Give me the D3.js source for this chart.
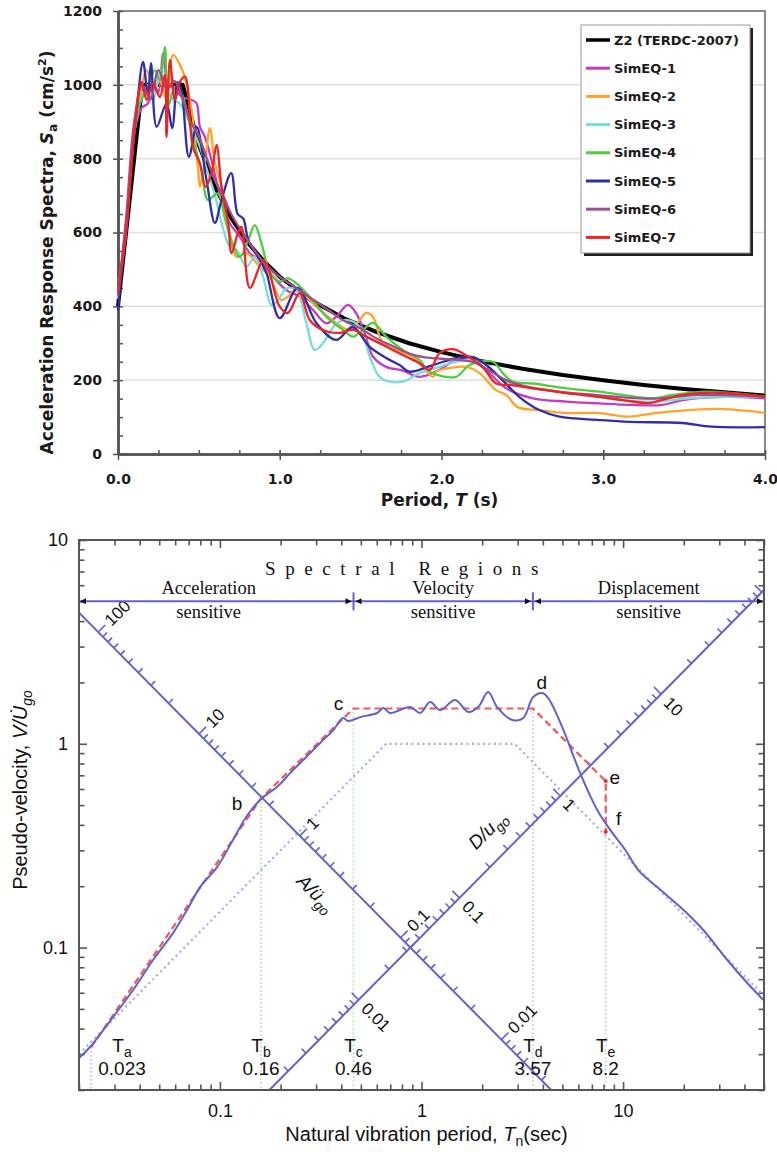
<!DOCTYPE html>
<html><head><meta charset="utf-8">
<script src="https://cdn.jsdelivr.net/npm/d3@7"></script>
<style>body{margin:0;background:#fff}svg{display:block}</style>
</head><body>
<svg id="c" width="777" height="1152"></svg>
<script>
// ================= DATA (top chart) =================
const topYTicks = [0, 200, 400, 600, 800, 1000, 1200];
const topXTicks = [0, 1, 2, 3, 4];
const seriesNames = ["Z2 (TERDC-2007)", "SimEQ-1", "SimEQ-2", "SimEQ-3", "SimEQ-4", "SimEQ-5", "SimEQ-6", "SimEQ-7"];
const seriesColors = ["#000000", "#c43cc4", "#ffa329", "#79dcd8", "#4fcd40", "#2e2eaa", "#a04f8c", "#ee2424"];

const z2 = [[0,400],[0.15,1000],[0.4,1000],[0.5,837],[0.6,723],[0.7,639],[0.8,574],[0.9,523],[1.0,480],[1.2,415],[1.4,367],[1.6,330],[1.8,300],[2.0,276],[2.25,251],[2.5,231],[2.75,214],[3.0,200],[3.25,187],[3.5,176],[3.75,167],[4.0,158]];
const simEQ1 = [[0,430],[0.05,600],[0.1,870],[0.146,937],[0.185,950],[0.22,1000],[0.249,981],[0.28,1085],[0.31,1000],[0.35,990],[0.393,968],[0.455,959],[0.486,950],[0.506,887],[0.537,859],[0.578,796],[0.62,720],[0.691,625],[0.753,589],[0.815,544],[0.877,525],[0.959,480],[1.041,444],[1.123,426],[1.206,390],[1.288,354],[1.35,372],[1.422,404],[1.473,381],[1.525,327],[1.576,264],[1.658,236],[1.761,226],[1.864,209],[1.988,228],[2.07,250],[2.193,255],[2.296,219],[2.40,178],[2.564,151],[2.77,142],[2.975,137],[3.16,133],[3.366,133],[3.49,146],[3.736,155],[4.0,151]];
const simEQ2 = [[0,436],[0.05,620],[0.1,880],[0.136,968],[0.177,1040],[0.22,990],[0.26,1010],[0.3,960],[0.341,1081],[0.393,1045],[0.414,1018],[0.455,932],[0.494,778],[0.506,724],[0.537,788],[0.568,883],[0.599,788],[0.64,724],[0.691,598],[0.733,534],[0.794,544],[0.877,507],[0.938,480],[1.01,417],[1.05,426],[1.103,444],[1.226,399],[1.35,355],[1.432,336],[1.494,363],[1.535,382],[1.576,372],[1.638,300],[1.72,282],[1.821,264],[1.864,246],[1.947,209],[1.967,223],[2.05,233],[2.152,236],[2.235,219],[2.337,173],[2.40,160],[2.471,127],[2.605,119],[2.77,111],[2.975,111],[3.16,101],[3.32,111],[3.53,119],[3.73,122],[4.0,111]];
const simEQ3 = [[0,420],[0.05,620],[0.1,870],[0.14,960],[0.18,1000],[0.22,960],[0.26,1040],[0.3,990],[0.34,960],[0.38,950],[0.42,920],[0.46,880],[0.5,840],[0.55,770],[0.6,700],[0.65,610],[0.691,562],[0.733,553],[0.794,507],[0.846,534],[0.897,480],[0.949,404],[0.99,417],[1.041,449],[1.103,444],[1.165,354],[1.216,282],[1.267,300],[1.35,354],[1.411,363],[1.494,345],[1.556,264],[1.617,209],[1.679,196],[1.761,196],[1.864,219],[1.988,236],[2.09,250],[2.193,255],[2.276,241],[2.358,209],[2.461,187],[2.667,173],[2.872,160],[3.12,146],[3.32,142],[3.53,151],[3.78,155],[4.0,155]];
const simEQ4 = [[0,430],[0.05,620],[0.1,870],[0.136,950],[0.185,994],[0.228,1040],[0.259,1013],[0.29,1103],[0.309,941],[0.352,994],[0.393,977],[0.432,913],[0.475,832],[0.517,769],[0.556,688],[0.617,706],[0.66,640],[0.70,580],[0.753,534],[0.805,580],[0.846,620],[0.887,571],[0.938,494],[1.0,467],[1.051,476],[1.103,462],[1.185,426],[1.288,372],[1.391,336],[1.453,318],[1.514,336],[1.576,355],[1.658,318],[1.761,282],[1.864,255],[1.926,223],[2.09,209],[2.173,241],[2.317,250],[2.379,219],[2.44,196],[2.564,191],[2.77,178],[2.975,169],[3.12,160],[3.30,151],[3.43,160],[3.64,169],[4.0,155]];
const simEQ5 = [[0,390],[0.06,669],[0.115,932],[0.155,1062],[0.185,967],[0.204,1059],[0.239,886],[0.30,950],[0.335,883],[0.368,1007],[0.393,981],[0.438,805],[0.486,886],[0.547,742],[0.599,626],[0.64,688],[0.70,761],[0.74,650],[0.774,638],[0.805,580],[0.877,525],[0.918,490],[1.0,368],[1.111,450],[1.226,355],[1.35,309],[1.45,344],[1.556,290],[1.658,260],[1.741,241],[1.80,223],[1.947,241],[2.09,260],[2.19,263],[2.276,241],[2.377,200],[2.48,155],[2.605,119],[2.728,101],[2.975,92],[3.16,87],[3.49,84],[3.67,74],[4.0,73]];
const simEQ6 = [[0,430],[0.05,640],[0.1,900],[0.15,1000],[0.2,960],[0.25,1040],[0.3,990],[0.35,1010],[0.4,960],[0.45,900],[0.5,860],[0.55,800],[0.6,740],[0.65,700],[0.7,650],[0.8,580],[0.9,520],[1.0,480],[1.1,450],[1.2,420],[1.3,390],[1.4,360],[1.5,340],[1.6,312],[1.7,292],[1.8,272],[1.9,262],[2.0,258],[2.1,255],[2.2,248],[2.3,225],[2.4,200],[2.5,185],[2.7,170],[3.0,158],[3.3,150],[3.6,160],[4.0,155]];
const simEQ7 = [[0,436],[0.053,616],[0.105,887],[0.146,1008],[0.177,959],[0.216,1004],[0.259,967],[0.29,1027],[0.30,859],[0.321,1067],[0.352,959],[0.383,1008],[0.414,1022],[0.463,832],[0.506,788],[0.541,724],[0.578,761],[0.609,837],[0.64,724],[0.681,626],[0.702,544],[0.741,598],[0.763,616],[0.815,450],[0.897,525],[0.926,507],[1.0,399],[1.05,382],[1.123,436],[1.185,363],[1.266,336],[1.37,328],[1.451,336],[1.535,318],[1.658,291],[1.78,264],[1.864,246],[1.926,228],[1.988,273],[2.07,284],[2.13,273],[2.253,236],[2.337,191],[2.42,187],[2.562,178],[2.77,165],[2.975,155],[3.12,146],[3.28,138],[3.36,146],[3.49,160],[3.73,166],[4.0,155]];
const topSeries = [z2, simEQ1, simEQ2, simEQ3, simEQ4, simEQ5, simEQ6, simEQ7];

// ================= DATA (bottom chart) =================
const btmMajorX = [0.1, 1, 10];
const btmMajorY = [0.1, 1, 10];
const spectrum = [[0.0200,0.0287],[0.0227,0.0325],[0.0295,0.0456],[0.0371,0.0619],[0.0466,0.0869],[0.0586,0.118],[0.0687,0.153],[0.0797,0.198],[0.0968,0.248],[0.116,0.337],[0.137,0.447],[0.162,0.542],[0.192,0.614],[0.223,0.718],[0.259,0.832],[0.314,1.009],[0.365,1.167],[0.408,1.337],[0.433,1.293],[0.497,1.352],[0.603,1.416],[0.646,1.497],[0.698,1.416],[0.879,1.514],[0.984,1.416],[1.104,1.603],[1.238,1.464],[1.469,1.640],[1.705,1.432],[1.910,1.514],[2.142,1.794],[2.372,1.514],[2.818,1.309],[3.193,1.337],[3.581,1.695],[3.971,1.774],[4.253,1.675],[4.989,1.208],[6.124,0.718],[7.447,0.473],[8.630,0.378],[10.26,0.301],[11.89,0.240],[14.76,0.198],[19.23,0.158],[24.99,0.122],[32.88,0.0869],[41.30,0.0670],[49.66,0.0553]];
const idealized = [[0.023,0.0325],[0.16,0.54],[0.46,1.49],[3.57,1.49],[8.2,0.656],[8.2,0.37]];
const groundEnvelope = [[0.02,0.03],[0.667,1.0],[2.9,1.0],[50,0.058]];
const periodNames = ["a", "b", "c", "d", "e"];
const periodValues = [0.023, 0.16, 0.46, 3.57, 8.2];
const periodTopV = [0.0325, 0.54, 1.49, 1.49, 0.656];
const periodLabelT = [0.0327, 0.16, 0.46, 3.57, 8.2];
const periodColors = ["#e6a3e0", "#a8e0a8", "#a8e0a8", "#c8c8c8", "#c8c8c8"];
const cornerPoints = [["b",0.16,0.54],["c",0.46,1.49],["d",3.57,1.49],["e",8.2,0.656],["f",8.2,0.37]];
const regionBounds = [0.02, 0.46, 3.57, 50];
const regionNames = [["Acceleration","sensitive"],["Velocity","sensitive"],["Displacement","sensitive"]];
const regionLabelT = [0.088, 1.28, 13.4];
const regionLineV = 5;
const aAxisLabels = [100, 10, 1, 0.1, 0.01];
const dAxisLabels = [0.01, 0.1, 1, 10];
const aLine = {c: 0.088, k: 0.062};   // V = c/T , A/ügo = k/T²
const dLine = {c: 0.1136, k: 0.042};  // V = c·T , D/ugo = k·T²

// ================= DRAW =================
const svg = d3.select("#c");
svg.append("rect").attr("width", 777).attr("height", 1152).attr("fill", "#fff");

// ---------- TOP CHART ----------
const TF = "'DejaVu Sans', Verdana, sans-serif";
const tx = d3.scaleLinear().domain([0, 4]).range([118, 765]);
const ty = d3.scaleLinear().domain([0, 1200]).range([454, 11]);
const gt = svg.append("g");

gt.selectAll("line.grid").data(topYTicks.filter(v => v > 0 && v < 1200)).join("line")
  .attr("x1", tx(0)).attr("x2", tx(4)).attr("y1", d => ty(d)).attr("y2", d => ty(d))
  .attr("stroke", "#dedede").attr("stroke-width", 1.5);
gt.append("path").attr("d", `M${tx(0)},${ty(1200)}H${tx(4)}V${ty(0)}`)
  .attr("fill", "none").attr("stroke", "#8a8a8a").attr("stroke-width", 2);

const yMinor = gt.append("g").attr("transform", `translate(${tx(0)},0)`)
  .call(d3.axisLeft(ty).tickValues(d3.range(0, 1201, 50)).tickSize(-5).tickSizeOuter(0).tickFormat(""));
const xMinor = gt.append("g").attr("transform", `translate(0,${ty(0)})`)
  .call(d3.axisBottom(tx).tickValues(d3.range(0, 4.01, 0.25)).tickSize(-4).tickSizeOuter(0).tickFormat(""));
const yAx = gt.append("g").attr("transform", `translate(${tx(0)},0)`)
  .call(d3.axisLeft(ty).tickValues(topYTicks).tickSize(5).tickSizeOuter(0).tickPadding(11).tickFormat(d => String(d)));
const xAx = gt.append("g").attr("transform", `translate(0,${ty(0)})`)
  .call(d3.axisBottom(tx).tickValues(topXTicks).tickSize(6).tickSizeOuter(0).tickPadding(14).tickFormat(d3.format(".1f")));
[yMinor, xMinor, yAx, xAx].forEach(g => {
  g.select(".domain").attr("stroke", "#555").attr("stroke-width", 2.5);
  g.selectAll(".tick line").attr("stroke", "#555").attr("stroke-width", 1.5);
  g.selectAll("text").attr("font-family", TF).attr("font-weight", "bold").attr("font-size", 14).attr("fill", "#1a1a1a");
});
xAx.selectAll(".tick line").attr("y1", -4);

const tLine = d3.line().x(d => tx(d[0])).y(d => ty(d[1])).curve(d3.curveCatmullRom.alpha(0.5));
topSeries.forEach((s, i) => {
  gt.append("path").datum(s).attr("d", i === 0 ? d3.line().x(d => tx(d[0])).y(d => ty(d[1]))(s) : tLine(s))
    .attr("fill", "none").attr("stroke", seriesColors[i]).attr("stroke-width", i === 0 ? 4 : 2.3)
    .attr("stroke-linejoin", "round");
});

gt.append("text").attr("transform", `translate(53,${ty(600) + 20}) rotate(-90)`)
  .attr("text-anchor", "middle").attr("font-family", TF).attr("font-weight", "bold").attr("font-size", 17).attr("fill", "#1a1a1a")
  .call(t => {
    t.append("tspan").text("Acceleration Response Spectra, ");
    t.append("tspan").attr("font-style", "italic").text("S");
    t.append("tspan").attr("font-size", 12).attr("dy", 4).text("a");
    t.append("tspan").attr("dy", -4).text(" (cm/s");
    t.append("tspan").attr("font-size", 11).attr("dy", -7).text("2");
    t.append("tspan").attr("dy", 7).text(")");
  });
gt.append("text").attr("x", (tx(0) + tx(4)) / 2 - 2).attr("y", 506)
  .attr("text-anchor", "middle").attr("font-family", TF).attr("font-weight", "bold").attr("font-size", 17).attr("fill", "#1a1a1a")
  .call(t => {
    t.append("tspan").text("Period, ");
    t.append("tspan").attr("font-style", "italic").text("T");
    t.append("tspan").text(" (s)");
  });

const lg = gt.append("g");
lg.append("rect").attr("x", 584).attr("y", 28).attr("width", 169).attr("height", 228).attr("fill", "#222");
lg.append("rect").attr("x", 581).attr("y", 25).attr("width", 169).attr("height", 228).attr("fill", "#fff").attr("stroke", "#9a9a9a").attr("stroke-width", 1);
seriesNames.forEach((n, i) => {
  const y = 40 + i * 28.2;
  lg.append("line").attr("x1", 586).attr("x2", 610).attr("y1", y).attr("y2", y)
    .attr("stroke", seriesColors[i]).attr("stroke-width", i === 0 ? 3.5 : 3);
  lg.append("text").attr("x", 614).attr("y", y).attr("dy", "0.36em").attr("font-family", TF).attr("font-weight", "bold")
    .attr("font-size", 13).attr("fill", "#1a1a1a").text(n);
});

// ---------- BOTTOM CHART ----------
const BF = "'Liberation Sans', Arial, Helvetica, sans-serif";
const SF = "'Liberation Serif', 'Times New Roman', serif";
const BLUE = "#6262cf";
const bx = d3.scaleLog().domain([0.02, 50]).range([79, 764]);
const by = d3.scaleLog().domain([0.02, 10]).range([1090, 540]);
const gb = svg.append("g");

const isMajor = v => Math.abs(Math.log10(v) - Math.round(Math.log10(v))) < 1e-6;
const xMinorTicks = bx.ticks().filter(v => !isMajor(v));
const yMinorTicks = by.ticks().filter(v => !isMajor(v));
const xMajorAll = bx.ticks().filter(isMajor);
const yMajorAll = by.ticks().filter(isMajor);

function styleAxis(g) {
  g.select(".domain").remove();
  g.selectAll(".tick line").attr("stroke", "#555").attr("stroke-width", 1.6);
  g.selectAll("text").attr("font-family", BF).attr("font-size", 18).attr("fill", "#111");
}
gb.append("g").attr("transform", `translate(0,${by(0.02)})`).call(d3.axisBottom(bx).tickValues(xMinorTicks).tickSize(-5.5).tickFormat("")).call(styleAxis);
gb.append("g").attr("transform", `translate(0,${by(0.02)})`).call(d3.axisBottom(bx).tickValues(btmMajorX).tickSize(-8).tickPadding(14).tickFormat(d => d)).call(styleAxis);
gb.append("g").attr("transform", `translate(0,${by(10)})`).call(d3.axisTop(bx).tickValues(xMinorTicks).tickSize(-5.5).tickFormat("")).call(styleAxis);
gb.append("g").attr("transform", `translate(0,${by(10)})`).call(d3.axisTop(bx).tickValues(xMajorAll).tickSize(-8).tickFormat("")).call(styleAxis);
gb.append("g").attr("transform", `translate(${bx(0.02)},0)`).call(d3.axisLeft(by).tickValues(yMinorTicks).tickSize(-5.5).tickFormat("")).call(styleAxis);
gb.append("g").attr("transform", `translate(${bx(0.02)},0)`).call(d3.axisLeft(by).tickValues(btmMajorY).tickSize(-8).tickPadding(11).tickFormat(d => d)).call(styleAxis);
gb.append("g").attr("transform", `translate(${bx(50)},0)`).call(d3.axisRight(by).tickValues(yMinorTicks).tickSize(-5.5).tickFormat("")).call(styleAxis);
gb.append("g").attr("transform", `translate(${bx(50)},0)`).call(d3.axisRight(by).tickValues(yMajorAll).tickSize(-8).tickFormat("")).call(styleAxis);

periodValues.forEach((T, i) => {
  gb.append("line").attr("x1", bx(T)).attr("x2", bx(T)).attr("y1", by(periodTopV[i])).attr("y2", by(0.02))
    .attr("stroke", periodColors[i]).attr("stroke-width", 1.6).attr("stroke-dasharray", "1.5,2.5");
});

const bLine = d3.line().x(d => bx(d[0])).y(d => by(d[1]));
gb.append("path").attr("d", bLine(groundEnvelope)).attr("fill", "none").attr("stroke", "#a8a8ec")
  .attr("stroke-width", 2.2).attr("stroke-dasharray", "2,3.5");

const clipId = "bclip";
gb.append("clipPath").attr("id", clipId).append("rect").attr("x", bx(0.02)).attr("y", by(10)).attr("width", bx(50) - bx(0.02)).attr("height", by(0.02) - by(10));
const tri = gb.append("g").attr("clip-path", `url(#${clipId})`);
const aEnds = [[0.02, aLine.c / 0.02], [aLine.c / 0.02, 0.02]];
tri.append("path").attr("d", bLine(aEnds)).attr("stroke", BLUE).attr("stroke-width", 2).attr("fill", "none");
const aTicks = d3.scaleLog().domain([0.003, 160]).ticks().filter(A => { const T = Math.sqrt(aLine.k / A); return T >= 0.02 && T <= aLine.c / 0.02; });
const r2 = Math.SQRT1_2;
aTicks.forEach(A => {
  const T = Math.sqrt(aLine.k / A), V = aLine.c / T;
  const x0 = bx(T), y0 = by(V), L = isMajor(A) ? 10 : 6;
  tri.append("line").attr("x1", x0).attr("y1", y0).attr("x2", x0 + L * r2).attr("y2", y0 - L * r2)
    .attr("stroke", BLUE).attr("stroke-width", 1.6);
});
aAxisLabels.forEach(A => {
  const T = Math.sqrt(aLine.k / A), V = aLine.c / T;
  const x0 = bx(T) + 13 * r2, y0 = by(V) - 13 * r2;
  gb.append("text").attr("transform", `translate(${x0},${y0}) rotate(-45)`).attr("dy", "0.35em")
    .attr("font-family", BF).attr("font-size", 17).attr("fill", "#111").text(A);
});
const dEnds = [[0.02 / dLine.c, 0.02], [50, dLine.c * 50]];
tri.append("path").attr("d", bLine(dEnds)).attr("stroke", BLUE).attr("stroke-width", 2).attr("fill", "none");
const dTicks = d3.scaleLog().domain([0.001, 120]).ticks().filter(D => { const T = Math.sqrt(D / dLine.k); return T >= 0.02 / dLine.c && T <= 50; });
dTicks.forEach(D => {
  const T = Math.sqrt(D / dLine.k), V = dLine.c * T;
  const x0 = bx(T), y0 = by(V), L = isMajor(D) ? 10 : 6;
  tri.append("line").attr("x1", x0).attr("y1", y0).attr("x2", x0 - L * r2).attr("y2", y0 - L * r2)
    .attr("stroke", BLUE).attr("stroke-width", 1.6);
});
dAxisLabels.forEach(D => {
  const T = Math.sqrt(D / dLine.k), V = dLine.c * T;
  const x0 = bx(T) + 8 * r2, y0 = by(V) + 8 * r2;
  gb.append("text").attr("transform", `translate(${x0},${y0}) rotate(45)`).attr("dy", "0.35em")
    .attr("font-family", BF).attr("font-size", 17).attr("fill", "#111").text(D);
});
gb.append("text").attr("transform", `translate(${bx(0.300)},${by(0.185)}) rotate(45)`).attr("text-anchor", "middle").attr("dy", "0.35em")
  .attr("font-family", BF).attr("font-size", 19).attr("font-style", "italic").attr("fill", "#111")
  .call(t => { t.append("tspan").text("A/ü"); t.append("tspan").attr("font-size", 14).attr("dy", 5).text("go"); });
gb.append("text").attr("transform", `translate(${bx(2.12)},${by(0.378)}) rotate(-45)`).attr("text-anchor", "middle").attr("dy", "0.35em")
  .attr("font-family", BF).attr("font-size", 19).attr("font-style", "italic").attr("fill", "#111")
  .call(t => { t.append("tspan").text("D/u"); t.append("tspan").attr("font-size", 14).attr("dy", 5).text("go"); });

const ry = by(regionLineV);
gb.append("line").attr("x1", bx(0.02)).attr("x2", bx(50)).attr("y1", ry).attr("y2", ry).attr("stroke", BLUE).attr("stroke-width", 2);
regionBounds.slice(1, -1).forEach(T => {
  gb.append("line").attr("x1", bx(T)).attr("x2", bx(T)).attr("y1", ry - 9).attr("y2", ry + 9).attr("stroke", BLUE).attr("stroke-width", 2);
  const x = bx(T);
  gb.append("path").attr("d", `M${x - 2},${ry}l-6,-3v6z M${x + 2},${ry}l6,-3v6z`).attr("fill", "#111");
});
gb.append("path").attr("d", `M${bx(0.02) + 1},${ry}l6,-3v6z M${bx(50) - 1},${ry}l-6,-3v6z`).attr("fill", "#111");

gb.append("text").attr("x", 265).attr("y", 575).attr("font-family", SF).attr("font-size", 19)
  .attr("letter-spacing", 9.6).attr("fill", "#111").text("Spectral Regions");
regionNames.forEach((n, i) => {
  n.forEach((line, j) => {
    gb.append("text").attr("x", bx(regionLabelT[i])).attr("y", 594 + j * 24).attr("text-anchor", "middle")
      .attr("font-family", SF).attr("font-size", 18.5).attr("fill", "#111").text(line);
  });
});

gb.append("path").attr("d", bLine(idealized)).attr("fill", "none").attr("stroke", "#f05a5a").attr("stroke-width", 2.2).attr("stroke-dasharray", "7,4");
gb.append("path").attr("d", d3.line().x(d => bx(d[0])).y(d => by(d[1])).curve(d3.curveCatmullRom.alpha(0.5))(spectrum))
  .attr("fill", "none").attr("stroke", BLUE).attr("stroke-width", 2);
gb.selectAll("circle.cp").data(idealized.slice(-2)).join("circle").attr("cx", d => bx(d[0])).attr("cy", d => by(d[1])).attr("r", 2).attr("fill", "#e83030");

const letterOffsets = {b: [-24, 5], c: [-15, -5], d: [9, -26], e: [9, -4], f: [13, -13]};
cornerPoints.forEach(([n, T, V]) => {
  gb.append("text").attr("x", bx(T) + letterOffsets[n][0]).attr("y", by(V) + letterOffsets[n][1]).attr("dy", "0.35em")
    .attr("text-anchor", "middle").attr("font-family", BF).attr("font-size", 19).attr("fill", "#111").text(n);
});

periodNames.forEach((n, i) => {
  const x = bx(periodLabelT[i]);
  gb.append("text").attr("x", x).attr("y", by(0.02) - 38).attr("text-anchor", "middle").attr("font-family", BF).attr("font-size", 19).attr("fill", "#111")
    .call(t => { t.append("tspan").text("T"); t.append("tspan").attr("font-size", 14).attr("dy", 5).text(n); });
  gb.append("text").attr("x", x).attr("y", by(0.02) - 15).attr("text-anchor", "middle").attr("font-family", BF).attr("font-size", 19).attr("fill", "#111")
    .text(periodValues[i]);
});

gb.append("rect").attr("x", bx(0.02)).attr("y", by(10)).attr("width", bx(50) - bx(0.02)).attr("height", by(0.02) - by(10))
  .attr("fill", "none").attr("stroke", "#555").attr("stroke-width", 2);

gb.append("text").attr("x", (bx(0.02) + bx(50)) / 2 + 5).attr("y", 1141).attr("text-anchor", "middle")
  .attr("font-family", BF).attr("font-size", 20).attr("fill", "#111")
  .call(t => {
    t.append("tspan").text("Natural vibration period, ");
    t.append("tspan").attr("font-style", "italic").text("T");
    t.append("tspan").attr("font-size", 14).attr("dy", 5).text("n");
    t.append("tspan").attr("dy", -5).text("(sec)");
  });
gb.append("text").attr("transform", `translate(27,${(by(10) + by(0.02)) / 2 - 25}) rotate(-90)`).attr("text-anchor", "middle")
  .attr("font-family", BF).attr("font-size", 20).attr("fill", "#111")
  .call(t => {
    t.append("tspan").text("Pseudo-velocity, ");
    t.append("tspan").attr("font-style", "italic").text("V/U\u0307");
    t.append("tspan").attr("font-style", "italic").attr("font-size", 14).attr("dy", 5).text("go");
  });
</script>
</body></html>
